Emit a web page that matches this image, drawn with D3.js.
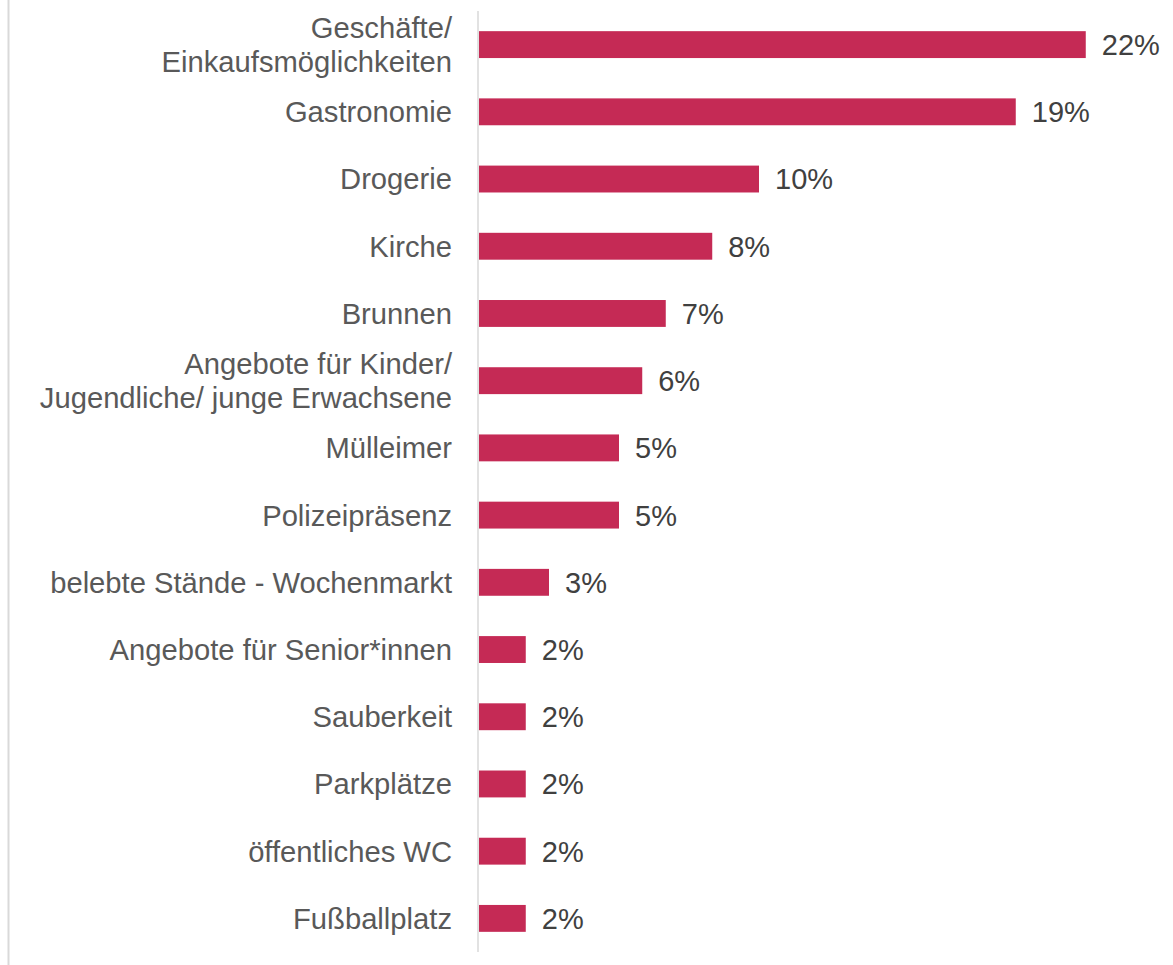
<!DOCTYPE html>
<html>
<head>
<meta charset="utf-8">
<script src="https://cdn.jsdelivr.net/npm/d3@7"></script>
<style>
  body { margin: 0; background: #fff; }
  text { font-family: "Liberation Sans", Arial, sans-serif; }
</style>
</head>
<body>
<script>
// categories (a "|" marks a line break in the label)
const categories = [
    'Geschäfte/|Einkaufsmöglichkeiten',
    'Gastronomie',
    'Drogerie',
    'Kirche',
    'Brunnen',
    'Angebote für Kinder/|Jugendliche/ junge Erwachsene',
    'Mülleimer',
    'Polizeipräsenz',
    'belebte Stände - Wochenmarkt',
    'Angebote für Senior*innen',
    'Sauberkeit',
    'Parkplätze',
    'öffentliches WC',
    'Fußballplatz'
];
// shares in percent
const values = [21.67, 19.17, 10.0, 8.33, 6.67, 5.83, 5.0, 5.0, 2.5, 1.67, 1.67, 1.67, 1.67, 1.67];

const width = 1173;
const height = 965;

const svg = d3.select('body')
    .append('svg')
    .attr('width', width)
    .attr('height', height);

const data = categories.map((c, i) => ({cat: c, val: values[i]}));

const x = d3.scaleLinear()
    .domain([0, 25])
    .range([479, 1179]);

const y = d3.scaleBand()
    .domain(categories)
    .range([11, 952])
    .paddingInner(0.6)
    .paddingOuter(0.3);

// left border line
svg.append('line')
    .attr('x1', 8.5).attr('x2', 8.5)
    .attr('y1', 0).attr('y2', height)
    .style('stroke', '#d9d9d9')
    .style('stroke-width', 2);

svg.selectAll('rect.bar')
    .data(data)
    .enter()
    .append('rect')
    .attr('class', 'bar')
    .attr('x', x(0))
    .attr('y', d => y(d.cat))
    .attr('width', d => x(d.val) - x(0))
    .attr('height', y.bandwidth())
    .style('fill', '#c52a55');

// axis line
svg.append('line')
    .attr('x1', x(0) - 1).attr('x2', x(0) - 1)
    .attr('y1', 11).attr('y2', 952)
    .style('stroke', '#d9d9d9')
    .style('stroke-width', 1.5);

// category labels
const lineH = 34.5;
svg.selectAll('text.cat')
    .data(data)
    .enter()
    .append('text')
    .attr('class', 'cat')
    .attr('text-anchor', 'end')
    .style('font-size', '29.2px')
    .style('fill', '#595959')
    .each(function(d) {
        const lines = d.cat.split('|');
        const cy = y(d.cat) + y.bandwidth() / 2;
        const y0 = cy - (lines.length - 1) * lineH / 2 + 10.4;
        lines.forEach((l, i) => {
            d3.select(this).append('tspan')
                .attr('x', 452)
                .attr('y', y0 + i * lineH)
                .text(l);
        });
    });

// value labels
svg.selectAll('text.val')
    .data(data)
    .enter()
    .append('text')
    .attr('class', 'val')
    .attr('x', d => x(d.val) + 16)
    .attr('y', d => y(d.cat) + y.bandwidth() / 2 + 10.4)
    .style('font-size', '29px')
    .style('fill', '#404040')
    .text(d => Math.round(d.val) + '%');
</script>
</body>
</html>
